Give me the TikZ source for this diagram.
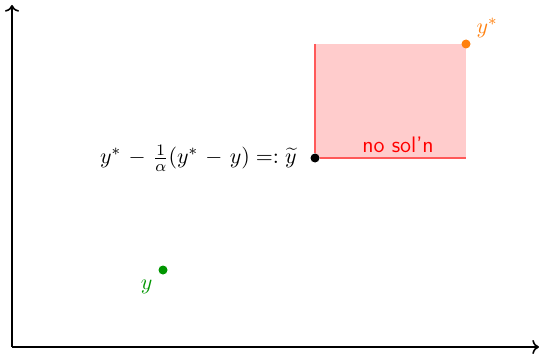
\documentclass[tikz,border=0pt]{standalone}
\usepackage{tikz}
\usetikzlibrary{arrows.meta,positioning}
\definecolor{stargold}{RGB}{255,128,14}
\definecolor{pointgreen}{RGB}{0,150,0}
\tikzset{
  dot/.style={circle,fill,inner sep=0pt,minimum size=4.5pt},
  axis/.style={thick,->}
}

\begin{document}
\begin{tikzpicture}[x=0.5pt,y=-0.5pt,font=\sffamily\fontsize{11.2}{13}\selectfont]
    \useasboundingbox (0,0) rectangle (539,353);

    \coordinate (origin) at (12,347);
    \coordinate (xend) at (539,347);
    \coordinate (yend) at (12,5);

    % infeasible region
    \coordinate (boxtl) at (315,44);
    \coordinate (boxbr) at (466,158);
    \fill[red!20] (boxtl) rectangle (boxbr);

    \node[dot,black] (ytilde) at (315,158) {};
    \node[dot,stargold] (ystar) at (466,44) {};
    \node[dot,pointgreen] (y) at (163,270) {};

    \draw[red!65,line width=0.6pt] (boxtl) -- (ytilde);
    \draw[red!65,line width=0.6pt] (ytilde) -- (ytilde -| boxbr);

    \node[anchor=east,inner sep=1pt] (tildelabel) at (299,158) {$\medmuskip=6mu plus 2mu minus 4mu y^* - \frac{1}{\alpha}(y^* - y) =: \widetilde{y}$};
    \node[stargold,above right=-2pt and 0pt of ystar] (ystarlabel) {$y^*$};
    \node[pointgreen,below left=0pt and 0pt of y] (ylabel) {$y$};
    \node[red] (nosol) at (398,145) {no sol'n};

    \draw[axis] (origin) -- (xend);
    \draw[axis] (origin) -- (yend);
\end{tikzpicture}
\end{document}
